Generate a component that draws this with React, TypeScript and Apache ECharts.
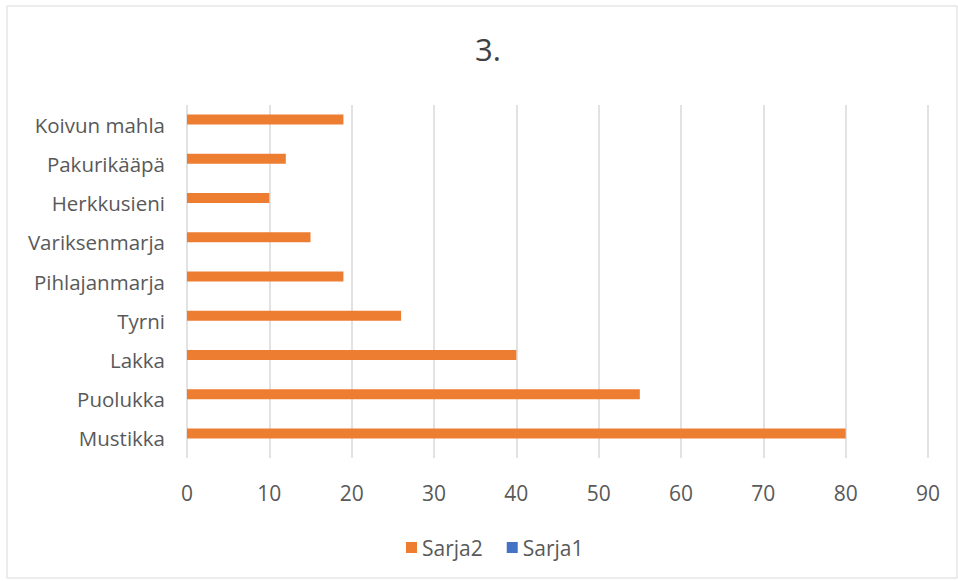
import React, { useEffect, useRef } from "react";
import * as echarts from "echarts";

const categories = ["Mustikka", "Puolukka", "Lakka", "Tyrni", "Pihlajanmarja", "Variksenmarja", "Herkkusieni", "Pakurikääpä", "Koivun mahla"];
const sarja2 = [80, 55, 40, 26, 19, 15, 10, 12, 19];
const sarja1: (number | null)[] = [null, null, null, null, null, null, null, null, null];
const xTicks = { min: 0, max: 90, interval: 10 };

const FONT = "'Open Sans', 'Noto Sans', sans-serif";

export default function App() {
  const ref = useRef<HTMLDivElement>(null);
  useEffect(() => {
    if (!ref.current) return;
    const chart = echarts.init(ref.current, undefined, { renderer: "svg" });
    chart.setOption({
      animation: false,
      backgroundColor: "#ffffff",
      title: {
        text: "3.",
        left: 470,
        top: 28,
        textStyle: { fontFamily: FONT, fontSize: 31, fontWeight: "normal", color: "#404040" },
      },
      graphic: [
        {
          type: "rect",
          shape: { x: 7, y: 6, width: 950, height: 572 },
          style: { fill: "none", stroke: "#d9d9d9", lineWidth: 1 },
          silent: true,
        },
      ],
      legend: {
        top: 532,
        left: 401,
        itemWidth: 11,
        itemHeight: 11,
        itemGap: 24,
        icon: "rect",
        textStyle: { fontFamily: FONT, fontSize: 21, color: "#595959" },
        data: ["Sarja2", "Sarja1"],
      },
      grid: { left: 187, right: 30, top: 105, bottom: 123, containLabel: false },
      xAxis: {
        type: "value",
        min: xTicks.min,
        max: xTicks.max,
        interval: xTicks.interval,
        axisLine: { show: false },
        axisTick: { show: false },
        axisLabel: { fontFamily: FONT, fontSize: 21, color: "#595959", margin: 24 },
        splitLine: { show: true, lineStyle: { color: "#d9d9d9", width: 1.5 } },
      },
      yAxis: {
        type: "category",
        data: categories,
        axisLine: { show: false },
        axisTick: { show: false },
        axisLabel: { fontFamily: FONT, fontSize: 20.5, color: "#595959", margin: 22 },
        splitLine: { show: false },
      },
      series: [
        {
          name: "Sarja2",
          type: "bar",
          data: sarja2,
          barWidth: 10,
          barGap: "0%",
          itemStyle: { color: "#ED7D31" },
        },
        {
          name: "Sarja1",
          type: "bar",
          data: sarja1,
          barWidth: 10,
          itemStyle: { color: "#4472C4" },
        },
      ],
    });
    return () => chart.dispose();
  }, []);
  return <div ref={ref} style={{ position: "fixed", left: 0, top: 0, width: 958, height: 581 }} />;
}
